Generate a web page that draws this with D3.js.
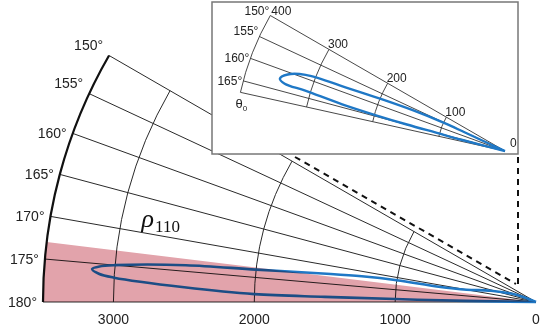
<!DOCTYPE html>
<html>
<head>
<meta charset="utf-8">
<script src="https://cdn.jsdelivr.net/npm/d3@7"></script>
<style>
  html, body { margin: 0; padding: 0; background: #fff; }
  svg { display: block; }
</style>
</head>
<body>
<div id="chart"></div>
<script>
// ---- data ----
const mainAngles = [150, 155, 160, 165, 170, 175, 180];
const mainRhoTicks = [0, 1000, 2000, 3000];
const mainRhoMax = 3500;
const shadeAngles = [173, 180];

// main loop (rho, theta in degrees), outward along upper branch, back along lower
const mainUpperRho   = [0, 150, 330, 500, 700, 1000, 1250, 1500, 2000, 2500, 3000, 3110, 3160];
const mainUpperTheta = [156, 160, 166, 170, 171.1, 171.1, 171.6, 172.3, 173.4, 174.0, 175.0, 175.35, 175.75];
const mainLowerRho   = [3160, 3110, 3000, 2500, 2000, 1500, 1000, 500, 0];
const mainLowerTheta = [175.75, 176.3, 176.7, 177.6, 178.4, 178.6, 178.8, 179.1, 179.5];

const insetAngles = [150, 155, 160, 165];
const insetTheta0 = 167.5;
const insetRhoTicks = [0, 100, 200, 300, 400];
const insetRhoMax = 400;

const insetUpperRho   = [0, 65, 100, 150, 200, 250, 315, 340, 349];
const insetUpperTheta = [155, 155.2, 155.3, 156.2, 157.3, 158.2, 159.1, 160.6, 162.2];
const insetLowerRho   = [349, 340, 308, 250, 200, 150, 104, 65, 0];
const insetLowerTheta = [162.2, 163.0, 163.2, 164.0, 164.5, 164.9, 165.1, 165.5, 165.5];

// ---- layout ----
const width = 545, height = 327;
const origin = { x: 536, y: 302 };
const insetBox = { x: 212, y: 2, w: 306, h: 152 };
const insetOrigin = { x: 505, y: 151 };

const sans = "Liberation Sans, Arial, Helvetica, sans-serif";
const serif = "Liberation Serif, Times New Roman, serif";
const blue = "#1f78c6";

const rad = d => d * Math.PI / 180;
// theta measured counter-clockwise from +x, lineRadial angle is clockwise from 12 o'clock
const toA = t => rad(90 - t);

const svg = d3.select("#chart").append("svg")
  .attr("width", width)
  .attr("height", height)
  .attr("viewBox", `0 0 ${width} ${height}`);

// ---- main polar panel ----
const r = d3.scaleLinear().domain([0, mainRhoMax]).range([0, 493]);
const g = svg.append("g").attr("transform", `translate(${origin.x},${origin.y})`);
const pt = (rho, t, sc) => [sc(rho) * Math.cos(rad(t)), -sc(rho) * Math.sin(rad(t))];

function arcPath(R, t0, t1) {
  const p = d3.path();
  const a0 = -rad(t1), a1 = -rad(t0);
  p.moveTo(R * Math.cos(a0), R * Math.sin(a0));
  p.arc(0, 0, R, a0, a1, false);
  return p.toString();
}

// radial spokes
g.selectAll("line.spoke")
  .data(mainAngles)
  .join("line")
  .attr("class", "spoke")
  .attr("x1", 0).attr("y1", 0)
  .attr("x2", d => pt(mainRhoMax, d, r)[0])
  .attr("y2", d => pt(mainRhoMax, d, r)[1])
  .attr("stroke", "#2a2a2a")
  .attr("stroke-width", 1);

// rho arcs
g.selectAll("path.ring")
  .data(mainRhoTicks.filter(v => v > 0))
  .join("path")
  .attr("class", "ring")
  .attr("d", d => arcPath(r(d), 150, 180))
  .attr("fill", "none")
  .attr("stroke", "#2a2a2a")
  .attr("stroke-width", 1);

// outer boundary
g.append("path")
  .attr("d", arcPath(r(mainRhoMax), 150, 180))
  .attr("fill", "none")
  .attr("stroke", "#111")
  .attr("stroke-width", 2.2);

// loop
const loopLine = d3.lineRadial()
  .angle(d => toA(d.t))
  .radius(d => d.sc(d.rho))
  .curve(d3.curveCatmullRom.alpha(0.5));

const mainLoop = mainUpperRho.map((v, i) => ({ rho: v, t: mainUpperTheta[i], sc: r }))
  .concat(mainLowerRho.slice(1).map((v, i) => ({ rho: v, t: mainLowerTheta[i + 1], sc: r })));

g.append("path")
  .datum(mainLoop)
  .attr("d", loopLine)
  .attr("fill", "none")
  .attr("stroke", blue)
  .attr("stroke-width", 2.6);

// shaded sector over the loop
g.append("path")
  .attr("d", d3.arc()
    .innerRadius(0)
    .outerRadius(r(mainRhoMax))
    .startAngle(toA(shadeAngles[1]))
    .endAngle(toA(shadeAngles[0]))())
  .attr("fill", "#e2a3ab")
  .style("mix-blend-mode", "multiply");

// angle labels
g.selectAll("text.ang")
  .data(mainAngles)
  .join("text")
  .attr("class", "ang")
  .attr("x", d => pt(mainRhoMax, d, r)[0] - 6)
  .attr("y", d => pt(mainRhoMax, d, r)[1] + (d < 160 ? -6 : 5))
  .attr("text-anchor", "end")
  .attr("font-family", sans)
  .attr("font-size", 14)
  .attr("fill", "#222")
  .text(d => `${d}°`);

// rho tick labels
g.selectAll("text.rho")
  .data(mainRhoTicks)
  .join("text")
  .attr("class", "rho")
  .attr("x", d => -r(d))
  .attr("y", 22)
  .attr("text-anchor", "middle")
  .attr("font-family", sans)
  .attr("font-size", 14)
  .attr("fill", "#222")
  .text(d => d);

// rho_110 annotation
const lab = pt(2850, 169.3, r);
const rhoText = g.append("text")
  .attr("x", lab[0])
  .attr("y", lab[1])
  .attr("font-family", serif)
  .attr("fill", "#111");
rhoText.append("tspan").attr("font-size", 26).attr("font-style", "italic").text("ρ");
rhoText.append("tspan").attr("font-size", 17).attr("dy", 5).attr("dx", 1).text("110");

// ---- connector lines ----
svg.append("line")
  .attr("x1", 295).attr("y1", 157)
  .attr("x2", 516).attr("y2", 284)
  .attr("stroke", "#111").attr("stroke-width", 2)
  .attr("stroke-dasharray", "6,5");
svg.append("line")
  .attr("x1", insetBox.x + insetBox.w).attr("y1", insetBox.y + insetBox.h + 3)
  .attr("x2", insetBox.x + insetBox.w).attr("y2", 284)
  .attr("stroke", "#111").attr("stroke-width", 2)
  .attr("stroke-dasharray", "6,5");

// ---- inset ----
svg.append("rect")
  .attr("x", insetBox.x).attr("y", insetBox.y)
  .attr("width", insetBox.w).attr("height", insetBox.h)
  .attr("fill", "#fff")
  .attr("stroke", "#777")
  .attr("stroke-width", 1.5);

const ri = d3.scaleLinear().domain([0, insetRhoMax]).range([0, 271]);
const gi = svg.append("g").attr("transform", `translate(${insetOrigin.x},${insetOrigin.y})`);
const insetSpokes = insetAngles.concat([insetTheta0]);

gi.selectAll("line.spoke")
  .data(insetSpokes)
  .join("line")
  .attr("x1", 0).attr("y1", 0)
  .attr("x2", d => pt(insetRhoMax, d, ri)[0])
  .attr("y2", d => pt(insetRhoMax, d, ri)[1])
  .attr("stroke", "#333")
  .attr("stroke-width", 0.9);

gi.selectAll("path.ring")
  .data(insetRhoTicks.filter(v => v > 0))
  .join("path")
  .attr("d", d => arcPath(ri(d), 150, insetTheta0))
  .attr("fill", "none")
  .attr("stroke", "#333")
  .attr("stroke-width", 0.9);

const insetLoop = insetUpperRho.map((v, i) => ({ rho: v, t: insetUpperTheta[i], sc: ri }))
  .concat(insetLowerRho.slice(1).map((v, i) => ({ rho: v, t: insetLowerTheta[i + 1], sc: ri })));

gi.append("path")
  .datum(insetLoop)
  .attr("d", loopLine)
  .attr("fill", "none")
  .attr("stroke", blue)
  .attr("stroke-width", 2.4);

gi.selectAll("text.ang")
  .data(insetAngles)
  .join("text")
  .attr("x", d => pt(insetRhoMax, d, ri)[0] - 1)
  .attr("y", d => pt(insetRhoMax, d, ri)[1] + (d < 160 ? -1 : 4))
  .attr("text-anchor", "end")
  .attr("font-family", sans)
  .attr("font-size", 12)
  .attr("fill", "#222")
  .text(d => `${d}°`);

const th0 = pt(insetRhoMax, insetTheta0, ri);
const th0Text = gi.append("text")
  .attr("x", th0[0] - 5)
  .attr("y", th0[1] + 16)
  .attr("font-family", sans)
  .attr("font-size", 13)
  .attr("fill", "#222");
th0Text.append("tspan").text("θ");
th0Text.append("tspan").attr("font-size", 8).attr("dy", 3).text("0");

gi.selectAll("text.rho")
  .data(insetRhoTicks)
  .join("text")
  .attr("x", d => d === 0 ? 5 : pt(d, 150, ri)[0] - (d === 400 ? -1 : 1))
  .attr("y", d => d === 0 ? -4 : pt(d, 150, ri)[1] - 1)
  .attr("font-family", sans)
  .attr("font-size", 12)
  .attr("fill", "#222")
  .text(d => d);
</script>
</body>
</html>
